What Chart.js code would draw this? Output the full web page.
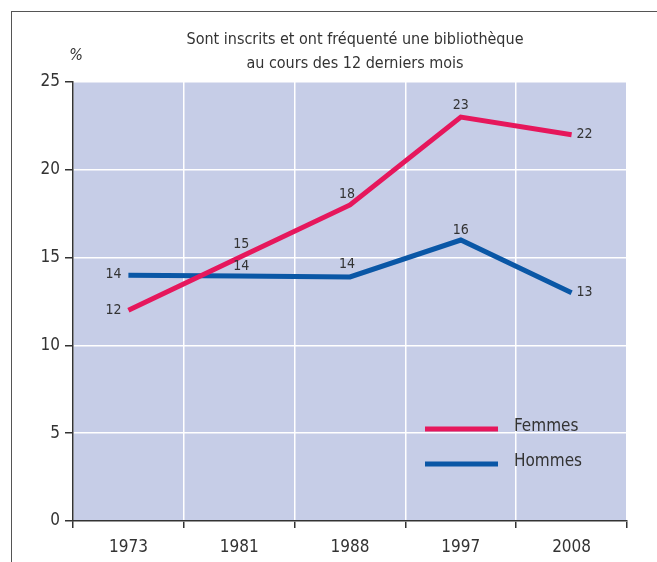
<!DOCTYPE html>
<html>
<head>
<meta charset="utf-8">
<script src="https://cdn.jsdelivr.net/npm/chart.js@4.4.0/dist/chart.umd.min.js"></script>
<style>
  html, body { margin: 0; padding: 0; background: #fff; }
  #wrap { position: relative; width: 657px; height: 562px; }
  #frame { position: absolute; left: 11px; top: 11px; width: 646px; height: 551px;
           border-left: 1px solid #555; border-top: 1px solid #555; box-sizing: border-box; }
  canvas { position: absolute; left: 0; top: 0; }
</style>
</head>
<body>
<div id="wrap">
  <div id="frame"></div>
  <canvas id="chart" width="657" height="562"></canvas>
</div>
<script>
// données
const annees = ['1973', '1981', '1988', '1997', '2008'];
const femmes = [12, 15, 18, 23, 22];
const hommes = [14, 13.95, 13.9, 16, 13];
const etiquettesFemmes = ['12', '15', '18', '23', '22'];
const etiquettesHommes = ['14', '14', '14', '16', '13'];
const titre = ['Sont inscrits et ont fréquenté une bibliothèque', 'au cours des 12 derniers mois'];

const FONT = "'Liberation Sans Narrow', 'DejaVu Sans Condensed', sans-serif";

// décalage des étiquettes par rapport au point (pixels)
const decalages = [
    [[-15, 0], [2, -13], [-3, -11], [0, -12], [13, 0]],
    [[-15, -1], [2, -10], [-3, -13], [0, -10], [13, 0]]
];

const decorPlugin = {
    id: 'decor',
    beforeDraw(chart) {
        const { ctx, chartArea: a } = chart;
        ctx.save();
        ctx.fillStyle = '#c6cde7';
        ctx.fillRect(a.left, a.top, a.right - a.left, a.bottom - a.top);
        ctx.restore();
    },
    afterDraw(chart) {
        const { ctx } = chart;
        ctx.save();
        ctx.fillStyle = '#333';
        ctx.textAlign = 'center';
        ctx.textBaseline = 'middle';
        ctx.font = '16px ' + FONT;
        ctx.fillText(titre[0], 355, 40);
        ctx.fillText(titre[1], 355, 64);

        ctx.font = 'italic 16px ' + FONT;
        ctx.fillText('%', 76, 56);

        // étiquettes de valeurs
        ctx.font = '14px ' + FONT;
        const etiquettes = [etiquettesFemmes, etiquettesHommes];
        chart.data.datasets.forEach((ds, i) => {
            const meta = chart.getDatasetMeta(i);
            meta.data.forEach((pt, j) => {
                const [dx, dy] = decalages[i][j];
                ctx.fillText(etiquettes[i][j], pt.x + dx, pt.y + dy);
            });
        });

        // légende
        const items = [
            { label: 'Femmes', color: chart.data.datasets[0].borderColor, y: 429 },
            { label: 'Hommes', color: chart.data.datasets[1].borderColor, y: 464 }
        ];
        ctx.font = '17px ' + FONT;
        ctx.textAlign = 'left';
        items.forEach(it => {
            ctx.strokeStyle = it.color;
            ctx.lineWidth = 5;
            ctx.beginPath();
            ctx.moveTo(425, it.y);
            ctx.lineTo(498, it.y);
            ctx.stroke();
            ctx.fillText(it.label, 514, it.y - 2);
        });
        ctx.restore();
    }
};

new Chart(document.getElementById('chart'), {
    type: 'line',
    data: {
        labels: annees,
        datasets: [
            {
                label: 'Femmes',
                data: femmes,
                borderColor: '#e6175c',
                borderWidth: 5,
                pointRadius: 0,
                tension: 0,
                fill: false
            },
            {
                label: 'Hommes',
                data: hommes,
                borderColor: '#0a57a6',
                borderWidth: 5,
                pointRadius: 0,
                tension: 0,
                fill: false
            }
        ]
    },
    options: {
        responsive: false,
        animation: false,
        layout: { padding: { top: 82, right: 30, left: 0, bottom: 0 } },
        plugins: {
            legend: { display: false },
            title: { display: false },
            tooltip: { enabled: false }
        },
        scales: {
            x: {
                offset: true,
                grid: { color: '#fff', lineWidth: 1.5, tickColor: '#333', tickLength: 7, offset: true },
                border: { display: true, color: '#333', width: 1.5 },
                ticks: { color: '#333', font: { family: FONT, size: 17 }, padding: 9 },
                afterFit(scale) { scale.height = 41; }
            },
            y: {
                min: 0,
                max: 25,
                ticks: { stepSize: 5, color: '#333', font: { family: FONT, size: 17 }, padding: 5 },
                grid: { color: '#fff', lineWidth: 1.5, tickColor: '#333', tickLength: 8 },
                border: { display: true, color: '#333', width: 1.5 },
                afterFit(scale) { scale.width = 73; }
            }
        }
    },
    plugins: [decorPlugin]
});
</script>
</body>
</html>
